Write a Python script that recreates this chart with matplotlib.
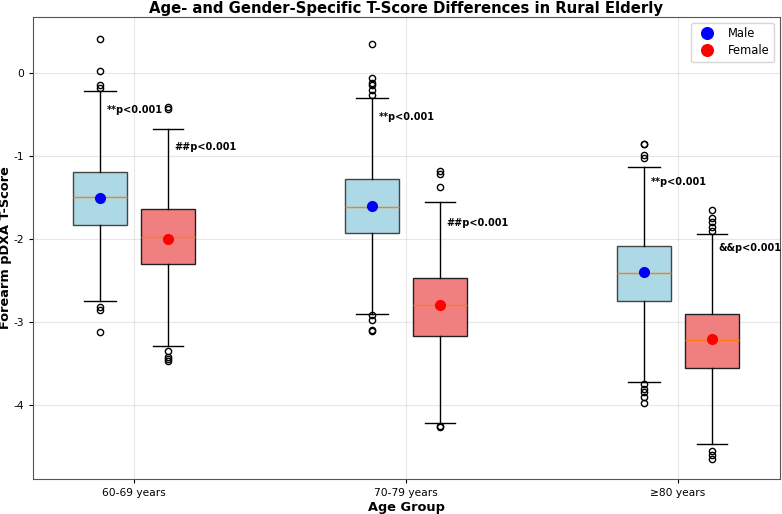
import matplotlib
matplotlib.use("Agg")
import matplotlib.pyplot as plt

plt.rcParams['axes.unicode_minus'] = False

# data
age_groups = ["60-69 years", "70-79 years", "≥80 years"]

male_mean = [-1.50, -1.60, -2.40]
male_q1 = [-1.83, -1.93, -2.74]
male_med = [-1.49, -1.61, -2.41]
male_q3 = [-1.19, -1.28, -2.08]
male_whislo = [-2.74, -2.90, -3.72]
male_whishi = [-0.22, -0.30, -1.13]
male_fliers = [
    [0.41, 0.03, -0.15, -0.18, -2.82, -2.86, -3.12],
    [0.35, -0.06, -0.12, -0.15, -0.21, -0.26, -2.92, -2.98, -3.10, -3.11],
    [-0.85, -0.86, -0.99, -1.02, -3.75, -3.80, -3.84, -3.90, -3.98],
]

female_mean = [-2.00, -2.80, -3.20]
female_q1 = [-2.30, -3.17, -3.55]
female_med = [-1.98, -2.80, -3.22]
female_q3 = [-1.64, -2.47, -2.90]
female_whislo = [-3.29, -4.21, -4.47]
female_whishi = [-0.68, -1.55, -1.94]
female_fliers = [
    [-0.41, -0.43, -3.35, -3.42, -3.45, -3.47],
    [-1.18, -1.22, -1.37, -4.25, -4.26],
    [-1.65, -1.75, -1.80, -1.85, -1.90, -4.55, -4.60, -4.65],
]

male_labels = ["**p<0.001", "**p<0.001", "**p<0.001"]
female_labels = ["##p<0.001", "##p<0.001", "&&p<0.001"]
male_label_y = [-0.45, -0.53, -1.31]
female_label_y = [-0.89, -1.81, -2.11]


def make_stats(q1, med, q3, lo, hi, fl, mean):
    out = []
    for i in range(len(q1)):
        out.append(dict(q1=q1[i], med=med[i], q3=q3[i], whislo=lo[i],
                        whishi=hi[i], fliers=fl[i], mean=mean[i]))
    return out


fig = plt.figure(figsize=(7.82, 5.14), dpi=100)
ax = fig.add_axes([33 / 782, 1 - 479 / 514, 747 / 782, 462 / 514])

centers = [1, 3, 5]
male_pos = [c - 0.25 for c in centers]
female_pos = [c + 0.25 for c in centers]

flier_style = dict(marker='o', markersize=4.5, markerfacecolor='none', markeredgecolor='black')

bm = ax.bxp(make_stats(male_q1, male_med, male_q3, male_whislo, male_whishi, male_fliers, male_mean),
            positions=male_pos, widths=0.4, capwidths=0.24, patch_artist=True,
            manage_ticks=False, flierprops=flier_style)
bf = ax.bxp(make_stats(female_q1, female_med, female_q3, female_whislo, female_whishi, female_fliers, female_mean),
            positions=female_pos, widths=0.4, capwidths=0.22, patch_artist=True,
            manage_ticks=False, flierprops=flier_style)

for b in bm['boxes']:
    b.set_facecolor('lightblue')
    b.set_edgecolor('#444444')
for b in bf['boxes']:
    b.set_facecolor('lightcoral')
    b.set_edgecolor('#222222')
for m in bm['medians'] + bf['medians']:
    m.set_color('C1')

ax.plot(male_pos, male_mean, 'o', color='blue', markersize=7, label='Male', zorder=5)
ax.plot(female_pos, female_mean, 'o', color='red', markersize=7, label='Female', zorder=5)

for i in range(3):
    ax.text(male_pos[i] + 0.05, male_label_y[i], male_labels[i], fontsize=7,
            fontweight='bold', va='center', ha='left')
    ax.text(female_pos[i] + 0.05, female_label_y[i], female_labels[i], fontsize=7,
            fontweight='bold', va='center', ha='left')

ax.set_xticks(centers)
ax.set_xticklabels(age_groups, fontsize=7.7)
ax.set_xlim(0.257, 5.75)
ax.set_ylim(-4.89, 0.675)
ax.set_yticks([0, -1, -2, -3, -4])
ax.set_yticklabels(['0', '-1', '-2', '-3', '-4'], fontsize=7.7)
ax.tick_params(length=3)
ax.grid(True, alpha=0.3)
ax.set_xlabel('Age Group', fontsize=9.3, fontweight='bold', labelpad=2)
ax.set_ylabel('Forearm pDXA T-Score', fontsize=9.3, fontweight='bold', labelpad=1)
ax.set_title('Age- and Gender-Specific T-Score Differences in Rural Elderly',
             fontsize=10.7, fontweight='bold', pad=3)
for s in ax.spines.values():
    s.set_color('#555555')
ax.legend(loc='upper right', fontsize=8.3, markerscale=1.2, borderaxespad=0.5,
          labelspacing=0.35)

fig.savefig('out.png', dpi=100)
